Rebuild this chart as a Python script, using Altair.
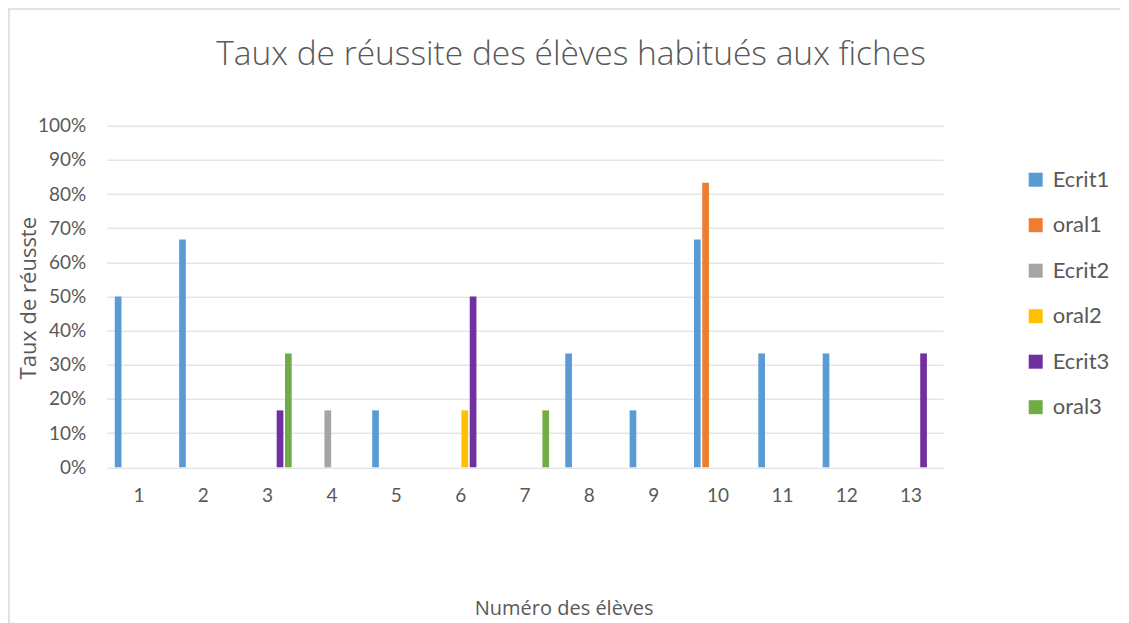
import altair as alt
import pandas as pd

students = [str(i) for i in range(1, 14)]
series = ["\u00a0Ecrit1", "oral1", "Ecrit2", "oral2", "Ecrit3", "oral3"]
colors = ["#5B9BD5", "#ED7D31", "#A5A5A5", "#FFC000", "#7030A0", "#70AD47"]

ecrit1 = [0.5, 0.6667, 0, 0, 0.1667, 0, 0, 0.3333, 0.1667, 0.6667, 0.3333, 0.3333, 0]
oral1 = [0, 0, 0, 0, 0, 0, 0, 0, 0, 0.8333, 0, 0, 0]
ecrit2 = [0, 0, 0, 0.1667, 0, 0, 0, 0, 0, 0, 0, 0, 0]
oral2 = [0, 0, 0, 0, 0, 0.1667, 0, 0, 0, 0, 0, 0, 0]
ecrit3 = [0, 0, 0.1667, 0, 0, 0.5, 0, 0, 0, 0, 0, 0, 0.3333]
oral3 = [0, 0, 0.3333, 0, 0, 0, 0.1667, 0, 0, 0, 0, 0, 0]

y_ticks = [i / 10 for i in range(11)]

rows = []
for name, vals in zip(series, [ecrit1, oral1, ecrit2, oral2, ecrit3, oral3]):
    for s, v in zip(students, vals):
        rows.append({"student": s, "series": name, "value": v})
df = pd.DataFrame(rows)

FONT = "Lato"
TFONT = "Open Sans"
GREY = "#595959"
FRAME = "#D9D9D9"

W, H = 836.6, 341.6
PAD = {"left": 98.7, "top": 117.7, "right": 177, "bottom": 160}

bars = alt.Chart(df).mark_bar().encode(
    x=alt.X(
        "student:N",
        sort=students,
        scale=alt.Scale(paddingInner=0.251, paddingOuter=0.1255),
        axis=alt.Axis(
            title="Numéro des élèves",
            labelAngle=0,
            labelFontSize=19,
            labelColor=GREY,
            labelFont=FONT,
            labelPadding=19,
            ticks=False,
            domain=False,
            grid=False,
            titleFont=TFONT,
            titleFontSize=20,
            titleFontWeight="normal",
            titleColor=GREY,
            titleX=457,
            titleY=141,
            titleBaseline="middle",
        ),
    ),
    xOffset=alt.XOffset(
        "series:N",
        sort=series,
        scale=alt.Scale(paddingInner=0.193, paddingOuter=0),
    ),
    y=alt.Y(
        "value:Q",
        scale=alt.Scale(domain=[0, 1]),
        axis=alt.Axis(
            title="Taux de réusste",
            format=".0%",
            values=y_ticks,
            labelFontSize=19,
            labelColor=GREY,
            labelFont=FONT,
            labelPadding=21,
            ticks=False,
            domain=False,
            grid=True,
            gridColor=FRAME,
            gridWidth=1,
            titleFont=TFONT,
            titleFontSize=22,
            titleFontWeight="normal",
            titleColor=GREY,
            titleAngle=-90,
            titleX=-78,
            titleY=172,
            titleBaseline="middle",
            titleAlign="center",
        ),
    ),
    color=alt.Color(
        "series:N",
        sort=series,
        scale=alt.Scale(domain=series, range=colors),
        legend=alt.Legend(
            title=None,
            orient="none",
            legendX=918,
            legendY=43,
            symbolType="square",
            symbolSize=196,
            symbolStrokeWidth=0,
            labelFontSize=22,
            labelFont=FONT,
            labelColor=GREY,
            labelOffset=6,
            rowPadding=23.5,
        ),
    ),
)

frame_df = pd.DataFrame({"k": [0]})
frame_top = alt.Chart(frame_df).mark_rule(color=FRAME, strokeWidth=1.5).encode(
    x=alt.value(-PAD["left"]),
    x2=alt.value(W + PAD["right"]),
    y=alt.value(-PAD["top"] + 1),
)
frame_left = alt.Chart(frame_df).mark_rule(color=FRAME, strokeWidth=1.5).encode(
    x=alt.value(-PAD["left"] + 1),
    y=alt.value(-PAD["top"] + 1),
    y2=alt.value(H + PAD["bottom"]),
)

chart = alt.layer(frame_top, frame_left, bars).properties(
    width=W,
    height=H,
    title=alt.TitleParams(
        "Taux de réussite des élèves habitués aux fiches",
        font=TFONT,
        fontSize=33.5,
        fontWeight=300,
        color=GREY,
        anchor="middle",
        frame="group",
        dx=46,
        dy=90,
        offset=0,
        baseline="alphabetic",
    ),
    autosize=alt.AutoSizeParams(type="none"),
    padding=PAD,
).configure_view(stroke=None)

chart.save("out.html", embed_options={"renderer": "svg", "actions": False})
